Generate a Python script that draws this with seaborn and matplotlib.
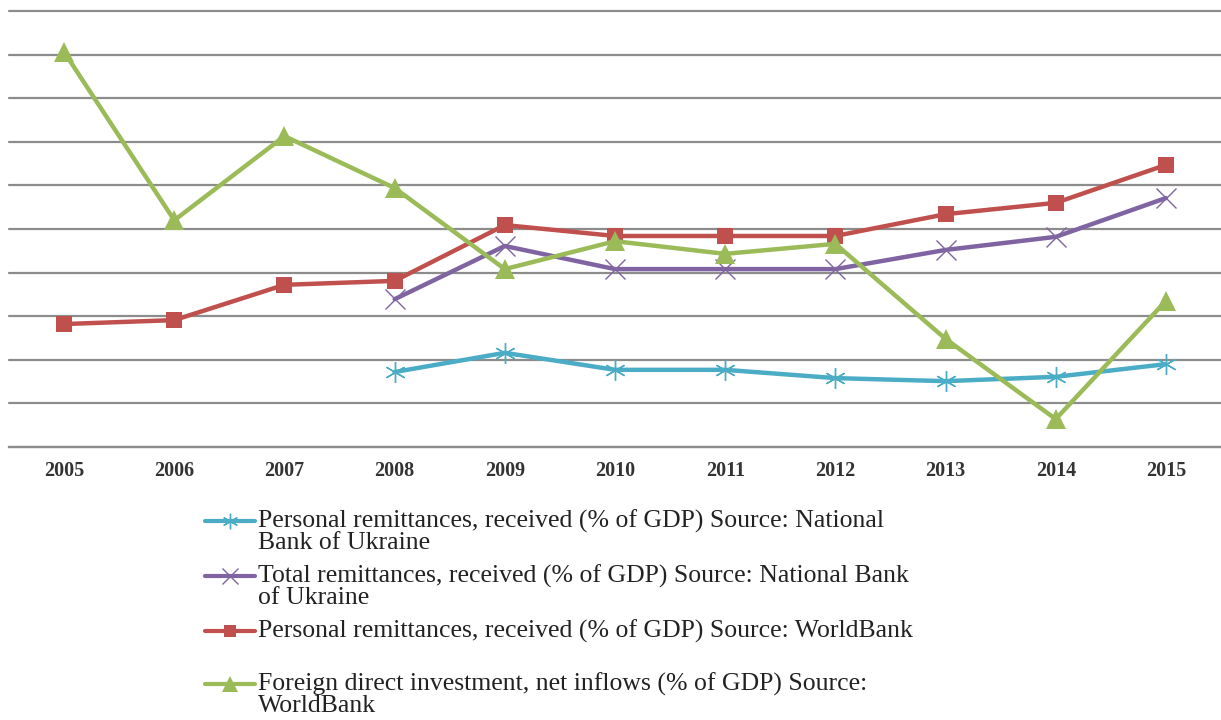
import numpy as np
import pandas as pd
import matplotlib
matplotlib.use("Agg")
import matplotlib.pyplot as plt
from matplotlib.lines import Line2D
import seaborn as sns

years = ["2005", "2006", "2007", "2008", "2009", "2010", "2011", "2012", "2013", "2014", "2015"]

personal_nbu = [np.nan, np.nan, np.nan, 1.72, 2.16, 1.77, 1.77, 1.58, 1.51, 1.61, 1.90]
total_nbu = [np.nan, np.nan, np.nan, 3.39, 4.61, 4.08, 4.08, 4.08, 4.52, 4.82, 5.71]
personal_wb = [2.82, 2.91, 3.72, 3.81, 5.09, 4.84, 4.84, 4.84, 5.34, 5.60, 6.47]
fdi_wb = [9.06, 5.20, 7.13, 5.94, 4.08, 4.72, 4.43, 4.66, 2.48, 0.64, 3.35]

labels = [
    "Personal remittances, received (% of GDP) Source: National\nBank of Ukraine",
    "Total remittances, received (% of GDP) Source: National Bank\nof Ukraine",
    "Personal remittances, received (% of GDP) Source: WorldBank",
    "Foreign direct investment, net inflows (% of GDP) Source:\nWorldBank",
]

series = [personal_nbu, total_nbu, personal_wb, fdi_wb]
colors = ["#4BACC6", "#8064A2", "#C0504D", "#9BBB59"]
markers = [(6, 2, 0), "x", "s", "^"]
msizes = [15, 15, 12, 15]
mews = [1.0, 1.0, 0, 0]

sns.set_theme(style="white")
plt.rcParams["font.family"] = ["Liberation Serif", "DejaVu Serif"]

fig = plt.figure(figsize=(12.21, 7.2), dpi=100)
ax = fig.add_axes([9 / 1221, 1 - 447 / 720, 1 - 9 / 1221, 436 / 720])

xpos = np.arange(len(years))
for vals, c, m, ms, mew in zip(series, colors, markers, msizes, mews):
    df = pd.DataFrame({"x": xpos, "y": vals}).dropna()
    sns.lineplot(data=df, x="x", y="y", ax=ax, color=c, linewidth=3.2,
                 marker=m, markersize=ms, markeredgewidth=mew,
                 markeredgecolor=c, markerfacecolor=c, zorder=3)

ax.set_xlim(-0.5, len(years) - 0.5)
ax.set_ylim(0, 10)
ax.set_yticks(np.arange(0, 11, 1))
ax.set_yticklabels([])
ax.yaxis.grid(True, color="#8c8c8c", linewidth=1.6)
for gl in ax.get_ygridlines():
    gl.set_clip_on(False)
ax.xaxis.grid(False)
ax.set_xticks(xpos)
ax.set_xticklabels(years, fontsize=14.5, fontweight="bold", color="#333333")
ax.tick_params(axis="x", length=0, pad=10)
ax.tick_params(axis="y", length=0)
for s in ["top", "right", "left"]:
    ax.spines[s].set_visible(False)
ax.spines["bottom"].set_color("#8c8c8c")
ax.spines["bottom"].set_linewidth(1.6)
ax.set_xlabel("")
ax.set_ylabel("")

# Legend drawn beneath the plot area
entry_y = [521, 576, 631, 684]
W, H = 1221, 720
for lab, c, m, ms, mew, y in zip(labels, colors, markers, msizes, mews, entry_y):
    fy = 1 - y / H
    fig.add_artist(Line2D([205 / W, 255 / W], [fy, fy], color=c, linewidth=3.0,
                          transform=fig.transFigure))
    fig.add_artist(Line2D([230 / W], [fy], color=c, marker=m, markersize=ms * 0.75,
                          markeredgewidth=mew, markeredgecolor=c, markerfacecolor=c,
                          transform=fig.transFigure))
    fig.text(258 / W, fy + 11 / H, lab, fontsize=18.5, color="#222222",
             ha="left", va="top", linespacing=0.9)

fig.savefig("out.png", dpi=100, facecolor="white")
